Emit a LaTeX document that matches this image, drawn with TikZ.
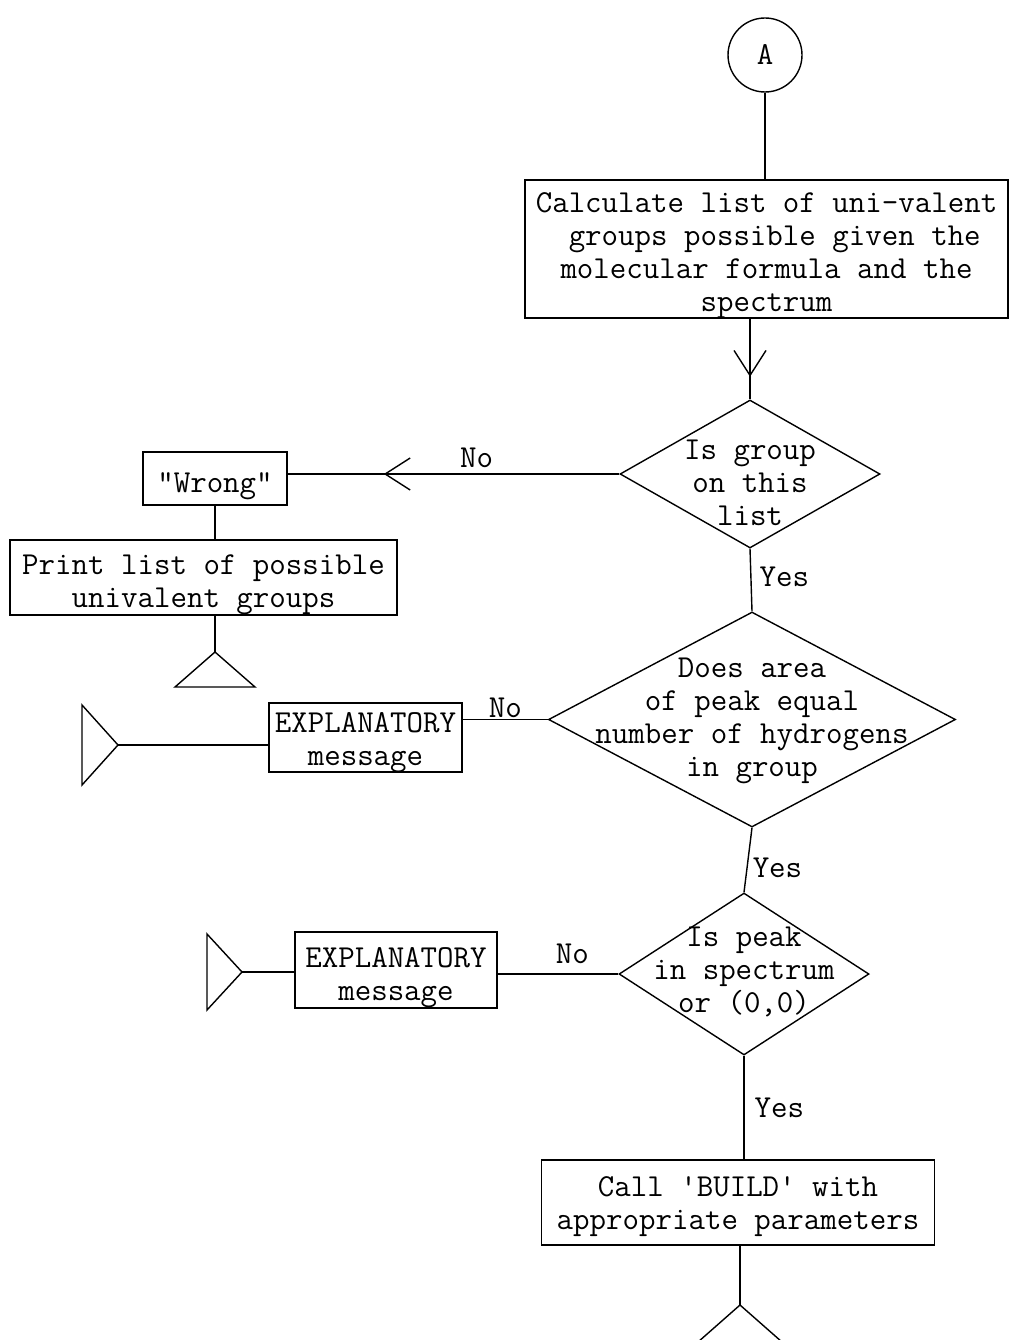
\documentclass[tikz,border=0pt]{standalone}
\usetikzlibrary{shapes.geometric,arrows.meta,decorations.markings}
% zero-size centred block of lines, lowered by #1, so a shape keeps the size it is given
\newcommand{\ctext}[2]{\makebox[0pt]{\smash{\raisebox{-#1}{\begin{tabular}{@{}c@{}}#2\end{tabular}}}}}
\begin{document}
\begin{tikzpicture}[x=1pt,y=-1pt,
  every node/.style={font=\ttfamily\fontsize{32}{33}\selectfont},
  ln/.style={line width=1.4pt},
  proc/.style={draw, line width=1.4pt, rectangle, inner sep=0pt},
  decision/.style={draw, line width=1.4pt, diamond, inner sep=0pt},
  conn/.style={draw, circle, line width=1.4pt, minimum size=74pt, inner sep=0pt},
  lbl/.style={inner sep=2pt},
  midarrow/.style={postaction={decorate}, decoration={markings,
      mark=at position #1 with {\arrow{Straight Barb[length=25pt,width=32pt,line width=1.4pt]}}}}
]
\fill[white] (0,0) rectangle (1011,1340);
\useasboundingbox (0,0) rectangle (1011,1340);

% process boxes and decisions
\node[conn] (A) at (765,55) {A};
\node[proc, minimum width=483, minimum height=138] (calc) at (766.5,249)
  {\ctext{13pt}{Calculate list of uni-valent\\ \ groups possible given the\\molecular formula and the\\spectrum}};
\node[decision, minimum width=260, minimum height=148] (d1) at (750,474)
  {\ctext{18pt}{Is group\\on this\\list}};
\node[proc, minimum width=144, minimum height=53] (wrong) at (215,478.5)
  {\ctext{14pt}{\textquotedbl Wrong\textquotedbl}};
\node[proc, minimum width=387, minimum height=75] (print) at (203.5,577.5)
  {\ctext{13.5pt}{Print list of possible\\univalent groups}};
\node[decision, minimum width=407, minimum height=215] (d2) at (752,719.5)
  {\ctext{7.5pt}{Does area\\of peak equal\\number of hydrogens\\in group}};
\node[proc, minimum width=193, minimum height=69] (expl1) at (365.5,737.5)
  {\ctext{10.75pt}{EXPLANATORY\\message}};
\node[decision, minimum width=250, minimum height=162] (d3) at (744,974)
  {\ctext{5pt}{Is peak\\in spectrum\\or (0,0)}};
\node[proc, minimum width=202, minimum height=76] (expl2) at (396,970)
  {\ctext{13.5pt}{EXPLANATORY\\message}};
\node[proc, minimum width=393, minimum height=85] (build) at (738,1202.5)
  {\ctext{10.5pt}{Call \textquotesingle BUILD\textquotesingle\ with\\appropriate parameters}};

% off-page connectors
\coordinate (t1) at (215,652);
\coordinate (t2) at (118,745);
\coordinate (t3) at (242,972);
\coordinate (t4) at (740,1305);
\draw[ln, line join=miter] (t1) -- ++(-40,35) -- ++(80,0) -- cycle;
\draw[ln, line join=miter] (t2) -- ++(-36,-40) -- ++(0,80) -- cycle;
\draw[ln, line join=miter] (t3) -- ++(-35,-38) -- ++(0,76) -- cycle;
\draw[ln, line join=miter] (t4) -- ++(-42,37) -- ++(84,0) -- cycle;

% flow lines
\draw[ln] (A.south) -- (A.south |- calc.north);
\draw[ln, midarrow=0.72] (calc.south -| d1.north) -- (d1.north);
\draw[ln, midarrow=0.71] (d1.west) -- (d1.west -| wrong.east)
  node[lbl, pos=0.43, anchor=south, yshift=4pt] {No};
\draw[ln] (wrong.south) -- (wrong.south |- print.north);
\draw[ln] (print.south -| t1) -- (t1);
\draw[ln] (d1.south) -- (d2.north)
  node[lbl, pos=0.45, anchor=west, xshift=6pt] {Yes};
\draw[ln] (d2.west) -- (d2.west -| expl1.east)
  node[lbl, midway, anchor=south, inner sep=1pt] {No};
\draw[ln] (expl1.west |- t2) -- (t2);
\draw[ln] (d2.south) -- (d3.north)
  node[lbl, pos=0.62, anchor=west, xshift=3pt] {Yes};
\draw[ln] (d3.west) -- (d3.west -| expl2.east)
  node[lbl, pos=0.38, anchor=south, yshift=8pt] {No};
\draw[ln] (expl2.west |- t3) -- (t3);
\draw[ln] (d3.south) -- (d3.south |- build.north)
  node[lbl, midway, anchor=west, xshift=8pt] {Yes};
\draw[ln] (build.south -| t4) -- (t4);
\end{tikzpicture}
\end{document}
